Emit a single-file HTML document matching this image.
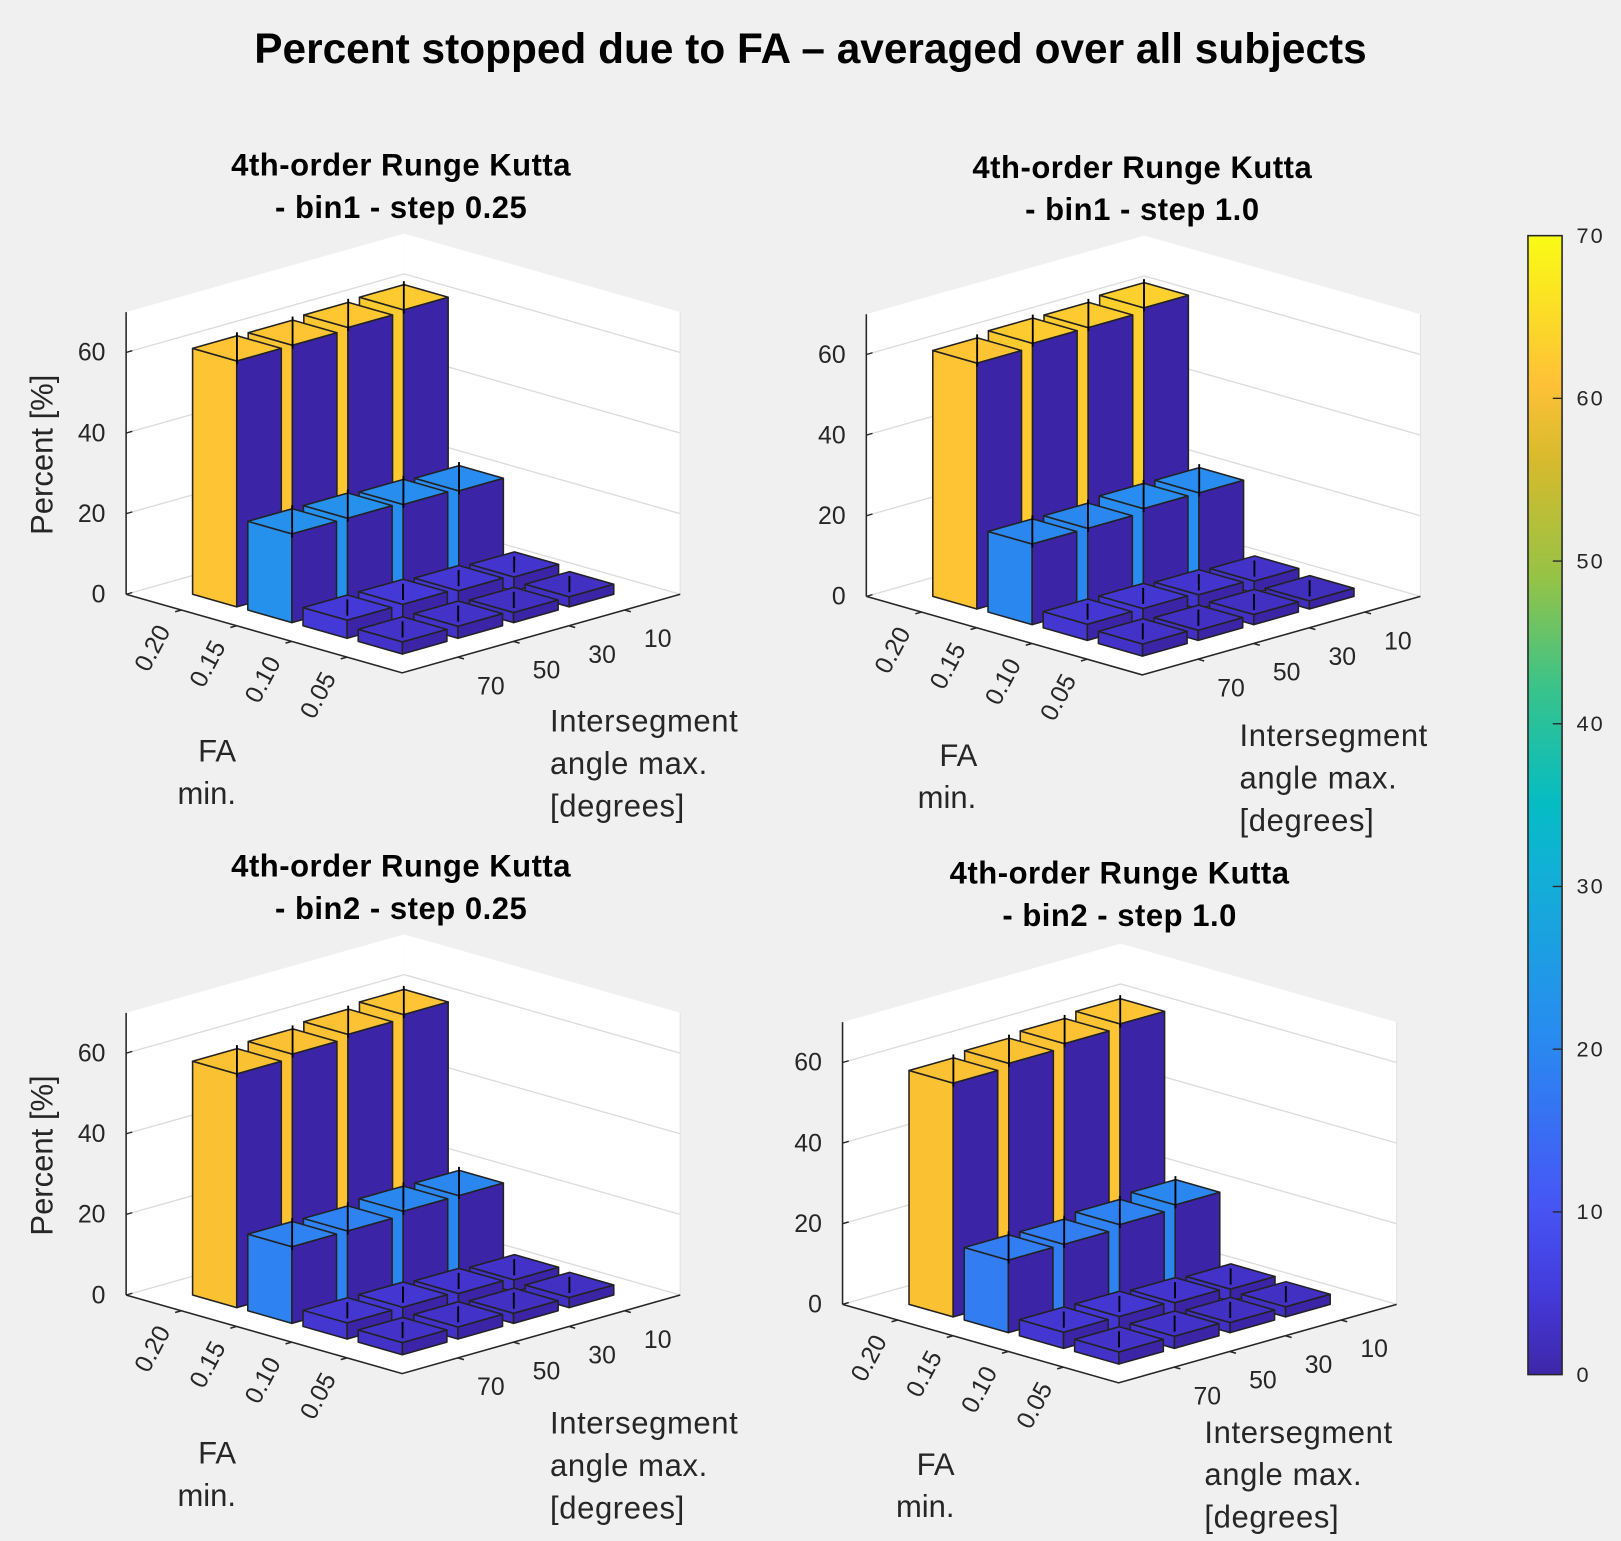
<!DOCTYPE html>
<html><head><meta charset="utf-8">
<style>
html,body{margin:0;padding:0;background:#f0f0f0;}
svg{display:block;}
text{font-family:"Liberation Sans",Arial,sans-serif;}
</style></head>
<body>
<svg id="chart" width="1621" height="1541" viewBox="0 0 1568 1491" preserveAspectRatio="none" xmlns="http://www.w3.org/2000/svg">
<rect x="0" y="0" width="1568" height="1491" fill="#f0f0f0"/>
<text x="784" y="61" text-anchor="middle" font-size="41" font-weight="bold" fill="#000">Percent stopped due to FA – averaged over all subjects</text>
<defs>
<linearGradient id="parula" x1="0" y1="1" x2="0" y2="0">
<stop offset="0" stop-color="#3e26a8"/>
<stop offset="0.07" stop-color="#443ada"/>
<stop offset="0.15" stop-color="#4656f5"/>
<stop offset="0.3" stop-color="#288cf0"/>
<stop offset="0.45" stop-color="#10b2d4"/>
<stop offset="0.5" stop-color="#05bcc4"/>
<stop offset="0.6" stop-color="#37c38c"/>
<stop offset="0.7" stop-color="#96c346"/>
<stop offset="0.8" stop-color="#d6ba2d"/>
<stop offset="0.87" stop-color="#fec137"/>
<stop offset="1" stop-color="#f9fb15"/>
</linearGradient>
</defs>
<g id="colorbar"></g>
</svg>
<script>
// categories
const faLabels = ["0.20","0.15","0.10","0.05"];
const angleLabels = ["70","50","30","10"];
const zTicks = [0,20,40,60];
const cbTicks = [0,10,20,30,40,50,60,70];
// series values: rows = FA min (0.20..0.05), cols = angle max (70..10)
const sub1Values = [[61,61,61.5,62],[22,22,21.5,21],[4.5,4.5,4,3.5],[3,3,2.5,2.5]];
const sub2Values = [[61,62,62,63],[20,20,21,21],[4,4,3.5,3],[3,2.5,2.5,2]];
const sub3Values = [[58,59,60,61],[19,19,20,20],[4,4,3.5,3],[3,3,2.5,2.5]];
const sub4Values = [[58,59,60,61],[18,18,19,20],[4,4,3.5,3],[3,3,2.5,2.5]];
const tallErr = [4,4,4,4];
const midErr = [4,4,4,4];
const lowErr = [2,2,2,2];
const subErrors = [tallErr, midErr, lowErr, lowErr];

const NS = "http://www.w3.org/2000/svg";
const svg = document.getElementById('chart');
function mk(tag, attrs, parent){
  const e = document.createElementNS(NS, tag);
  for (const k in attrs) e.setAttribute(k, attrs[k]);
  (parent||svg).appendChild(e);
  return e;
}
const stops = [[0,62,38,168],[0.07,68,58,218],[0.15,70,86,245],[0.3,40,140,240],[0.45,16,178,212],[0.5,5,188,196],[0.6,55,195,140],[0.7,150,195,70],[0.78,245,190,50],[0.87,254,195,52],[1,249,251,21]];
function parula(v){
  let t = Math.max(0, Math.min(1, v/70));
  for (let i=1;i<stops.length;i++){
    if (t<=stops[i][0]){
      const a=stops[i-1], b=stops[i], f=(t-a[0])/(b[0]-a[0]);
      return `rgb(${Math.round(a[1]+f*(b[1]-a[1]))},${Math.round(a[2]+f*(b[2]-a[2]))},${Math.round(a[3]+f*(b[3]-a[3]))})`;
    }
  }
  return "rgb(249,251,21)";
}

const subplots = [
  {ox:122, oy:575, vals:sub1Values, title:["4th-order Runge Kutta","- bin1 - step 0.25"], tx:388, ty:170, ylab:true,
   fa:[210,737], mn:[200,778], it:[532,708]},
  {ox:838, oy:577, vals:sub2Values, title:["4th-order Runge Kutta","- bin1 - step 1.0"], tx:1105, ty:172, ylab:false,
   fa:[927,741], mn:[916,782], it:[1199,722]},
  {ox:122, oy:1253, vals:sub3Values, title:["4th-order Runge Kutta","- bin2 - step 0.25"], tx:388, ty:848, ylab:true,
   fa:[210,1416], mn:[200,1457], it:[532,1387]},
  {ox:815, oy:1262, vals:sub4Values, title:["4th-order Runge Kutta","- bin2 - step 1.0"], tx:1083, ty:855, ylab:false,
   fa:[905,1427], mn:[895,1468], it:[1165,1396]}
];

const U=[53.4,15.2], V=[53.8,-15.2], ZS=3.9, ZMAX=70, LIM=5;

subplots.forEach((sp, si)=>{
  const g = mk('g', {});
  
  
  const P = (u,v,z)=>[sp.ox+U[0]*u+V[0]*v, sp.oy+U[1]*u+V[1]*v - z*ZS];
  const pts = arr => arr.map(p=>p[0].toFixed(1)+","+p[1].toFixed(1)).join(" ");
  const floor = mk('polygon', {points:pts([P(0,0,0),P(LIM,0,0),P(LIM,LIM,0),P(0,LIM,0)]), fill:'#fff', stroke:'none'}, g);
  
  
  const wl = mk('polygon', {points:pts([P(0,0,0),P(0,LIM,0),P(0,LIM,ZMAX),P(0,0,ZMAX)]), fill:'#fff'}, g);
  
  
  const wr = mk('polygon', {points:pts([P(0,LIM,0),P(LIM,LIM,0),P(LIM,LIM,ZMAX),P(0,LIM,ZMAX)]), fill:'#fff'}, g);
  
  
  zTicks.forEach(z=>{
    const gl = mk('polyline', {points:pts([P(0,0,z),P(0,LIM,z),P(LIM,LIM,z)]), fill:'none', stroke:'#dcdcdc', 'stroke-width':1.3}, g);
    
    
  });
  const re = mk('line', {x1:P(LIM,LIM,0)[0], y1:P(LIM,LIM,0)[1], x2:P(LIM,LIM,ZMAX)[0], y2:P(LIM,LIM,ZMAX)[1], stroke:'#e4e4e4','stroke-width':1.2}, g);
  
  
  const za = mk('line', {x1:P(0,0,0)[0], y1:P(0,0,0)[1], x2:P(0,0,ZMAX)[0], y2:P(0,0,ZMAX)[1], stroke:'#262626','stroke-width':1.5}, g);
  
  
  const fe = mk('polyline', {points:pts([P(0,0,0),P(LIM,0,0),P(LIM,LIM,0)]), fill:'none', stroke:'#262626','stroke-width':1.5}, g);
  
  
  zTicks.forEach(z=>{
    const p = P(0,0,z);
    mk('line',{x1:p[0],y1:p[1],x2:p[0]+6,y2:p[1]-1.7,stroke:'#262626','stroke-width':1.3},g);
    const t = mk('text',{x:p[0]-20,y:p[1]+8,'text-anchor':'end','font-size':24,fill:'#262626'},g);
    t.textContent = z;
    
    
  });
  faLabels.forEach((lab,i)=>{
    const p = P(i+1,0,0);
    mk('line',{x1:p[0],y1:p[1],x2:p[0]-6,y2:p[1]+1.7,stroke:'#262626','stroke-width':1.5},g);
    const t = mk('text',{x:0,y:0,'text-anchor':'end','font-size':24,fill:'#262626',transform:`translate(${(p[0]-10).toFixed(1)},${(p[1]+20).toFixed(1)}) rotate(-62)`},g);
    t.textContent = lab;
    
    
  });
  angleLabels.forEach((lab,j)=>{
    const p = P(LIM,j+1,0);
    mk('line',{x1:p[0],y1:p[1],x2:p[0]+6,y2:p[1]+1.7,stroke:'#262626','stroke-width':1.5},g);
    const t = mk('text',{x:p[0]+32,y:p[1]+36,'text-anchor':'middle','font-size':24,fill:'#262626'},g);
    t.textContent = lab;
    
    
  });
  const order=[];
  for(let i=0;i<4;i++)for(let j=0;j<4;j++)order.push([i,j]);
  order.sort((a,b)=>(a[0]-a[1])-(b[0]-b[1]) || (a[0]+a[1])-(b[0]+b[1]));
  order.forEach(([i,j])=>{
    const h = sp.vals[i][j], e = subErrors[i][j];
    const uc=i+1, vc=j+1, u0=uc-0.4, u1=uc+0.4, v0=vc-0.4, v1=vc+0.4;
    const col = parula(h);
    const bg = mk('g',{},g);
    
    
    mk('polygon',{points:pts([P(u0,v0,0),P(u1,v0,0),P(u1,v0,h),P(u0,v0,h)]),fill:col,stroke:'#222','stroke-width':1.5,'stroke-linejoin':'round'},bg);
    mk('polygon',{points:pts([P(u1,v0,0),P(u1,v1,0),P(u1,v1,h),P(u1,v0,h)]),fill:'#3b25a6',stroke:'#222','stroke-width':1.5,'stroke-linejoin':'round'},bg);
    mk('polygon',{points:pts([P(u0,v0,h),P(u1,v0,h),P(u1,v1,h),P(u0,v1,h)]),fill:col,stroke:'#222','stroke-width':1.5,'stroke-linejoin':'round'},bg);
    const a=P(uc,vc,h-e), b=P(uc,vc,h+e);
    const eb = mk('line',{x1:a[0],y1:a[1],x2:b[0],y2:b[1],stroke:'#000','stroke-width':1.8},bg);
    
    
  });
  sp.title.forEach((ln,k)=>{
    const t = mk('text',{x:sp.tx,y:sp.ty+k*41,'text-anchor':'middle','font-size':30,'font-weight':'bold',fill:'#000','letter-spacing':'0.5'},g);
    t.textContent = ln;
    
    
  });
  if (sp.ylab){
    const yc = sp.oy - 135;
    const t = mk('text',{x:0,y:0,'text-anchor':'middle','font-size':30,fill:'#262626',transform:`translate(51,${yc}) rotate(-90)`},g);
    t.textContent = 'Percent [%]';
    
    
  }
  const f1 = mk('text',{x:sp.fa[0],y:sp.fa[1],'text-anchor':'middle','font-size':30,fill:'#262626'},g);
  f1.textContent='FA';
  
  
  const f2 = mk('text',{x:sp.mn[0],y:sp.mn[1],'text-anchor':'middle','font-size':30,fill:'#262626'},g);
  f2.textContent='min.';
  
  
  ['Intersegment','angle max.','[degrees]'].forEach((ln,k)=>{
    const t = mk('text',{x:sp.it[0],y:sp.it[1]+k*41,'font-size':30,fill:'#262626','letter-spacing':'0.6'},g);
    t.textContent = ln;
    
    
  });
});

const cb = document.getElementById('colorbar');
const cbX=1478, cbW=33, cbTop=228, cbBot=1330;
mk('rect',{x:cbX,y:cbTop,width:cbW,height:cbBot-cbTop,fill:'url(#parula)',stroke:'#262626','stroke-width':1.5},cb);
cbTicks.forEach(v=>{
  const y = cbBot - (v/70)*(cbBot-cbTop);
  if (v>0 && v<70) mk('line',{x1:cbX+cbW-9,y1:y,x2:cbX+cbW,y2:y,stroke:'#262626','stroke-width':1.3},cb);
  const t = mk('text',{x:cbX+cbW+14,y:y+7,'font-size':21,fill:'#262626','letter-spacing':'2'},cb);
  t.textContent = v;
  
  
});
</script>
</body></html>
